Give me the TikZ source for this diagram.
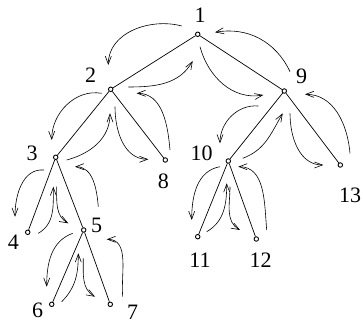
\documentclass[tikz,border=0pt]{standalone}
\usepackage{fontspec}
\setmainfont{Liberation Serif}
\usetikzlibrary{arrows.meta}

\begin{document}
\begin{tikzpicture}[x=1pt,y=1pt,
  vtx/.style={circle,draw,line width=0.9pt,inner sep=0pt,minimum size=4.5pt},
  lbl/.style={font=\fontsize{22}{22}\selectfont,inner sep=0pt},
  edge/.style={line width=0.7pt},
  trav/.style={line width=0.6pt,-{Straight Barb[length=8pt,width=6pt]}}]
\useasboundingbox (0,0) rectangle (363,324);
% tree
\node[vtx] (n1) at (197.7,289.7) {};
\node[vtx] (n2) at (110.7,234.7) {};
\node[vtx] (n3) at (55.7,166.7) {};
\node[vtx] (n4) at (27.7,91.7) {};
\node[vtx] (n5) at (83.7,94) {};
\node[vtx] (n6) at (51.7,19.7) {};
\node[vtx] (n7) at (110.3,19.7) {};
\node[vtx] (n8) at (165.3,164) {};
\node[vtx] (n9) at (284.3,233) {};
\node[vtx] (n10) at (228.3,163) {};
\node[vtx] (n11) at (197.7,87.3) {};
\node[vtx] (n12) at (256.3,85) {};
\node[vtx] (n13) at (340.3,159) {};
\node[lbl] (l1) at (200,309) {1};
\node[lbl] (l2) at (90.7,249) {2};
\node[lbl] (l3) at (32,171) {3};
\node[lbl] (l4) at (13.3,82) {4};
\node[lbl] (l5) at (96.7,98.3) {5};
\node[lbl] (l6) at (37.7,14) {6};
\node[lbl] (l7) at (132.7,11.5) {7};
\node[lbl] (l8) at (163.3,142.3) {8};
\node[lbl] (l9) at (301.7,248) {9};
\node[lbl] (l10) at (201.7,170.7) {10};
\node[lbl] (l11) at (200,64) {11};
\node[lbl] (l12) at (260.7,64) {12};
\node[lbl] (l13) at (350,128.3) {13};
\draw[edge] (n1) -- (n2); \draw[edge] (n2) -- (n3); \draw[edge] (n3) -- (n4);
\draw[edge] (n3) -- (n5); \draw[edge] (n5) -- (n6); \draw[edge] (n5) -- (n7);
\draw[edge] (n2) -- (n8); \draw[edge] (n1) -- (n9); \draw[edge] (n9) -- (n10);
\draw[edge] (n10) -- (n11); \draw[edge] (n10) -- (n12); \draw[edge] (n9) -- (n13);
% traversal, down on the left of an edge, up on the right
\coordinate (dn12a) at (181.7,298); \coordinate (dn12b) at (108.3,259);
\coordinate (up12a) at (128.3,237); \coordinate (up12b) at (192.7,263);
\coordinate (dn19a) at (200,277.3); \coordinate (dn19b) at (263.3,229);
\coordinate (up19a) at (290,252.3); \coordinate (up19b) at (215,291.7);
\coordinate (dn23a) at (101.7,230.7); \coordinate (dn23b) at (51.7,184);
\coordinate (up23a) at (66.7,164); \coordinate (up23b) at (110,210.7);
\coordinate (dn28a) at (115,217.3); \coordinate (dn28b) at (148.3,164.7);
\coordinate (up28a) at (170,174); \coordinate (up28b) at (136.7,230.7);
\coordinate (dn34a) at (44,154); \coordinate (dn34b) at (15,107.3);
\coordinate (up34a) at (38.3,90.7); \coordinate (up34b) at (53.3,137.3);
\coordinate (dn35a) at (56.7,137.3); \coordinate (dn35b) at (68.3,100.7);
\coordinate (up35a) at (98.3,117.3); \coordinate (up35b) at (75,157.3);
\coordinate (dn56a) at (72.7,90.7); \coordinate (dn56b) at (46.7,37.3);
\coordinate (up56a) at (61.7,22.3); \coordinate (up56b) at (78.3,70.7);
\coordinate (dn57a) at (83.3,65.7); \coordinate (dn57b) at (95,27.3);
\coordinate (up57a) at (122.7,27.3); \coordinate (up57b) at (106.7,84.7);
\coordinate (dn910a) at (258.3,218); \coordinate (dn910b) at (220,180.7);
\coordinate (up910a) at (242.7,165.7); \coordinate (up910b) at (282.7,210.7);
\coordinate (dn913a) at (290,210.7); \coordinate (dn913b) at (323.3,159);
\coordinate (up913a) at (350,170.7); \coordinate (up913b) at (305,229.7);
\coordinate (dn1011a) at (220,157.3); \coordinate (dn1011b) at (191.7,104);
\coordinate (up1011a) at (206.7,92.3); \coordinate (up1011b) at (226.7,140.7);
\coordinate (dn1012a) at (230,137.3); \coordinate (dn1012b) at (240,94);
\coordinate (up1012a) at (266.7,94); \coordinate (up1012b) at (238.3,157.3);
\draw[trav] (dn12a) to[out=165,in=90] (dn12b);
\draw[trav] (up12a) to[out=0,in=240] (up12b);
\draw[trav] (dn19a) to[out=-75,in=190] (dn19b);
\draw[trav] (up19a) to[out=115,in=10] (up19b);
\draw[trav] (dn23a) to[out=170,in=90] (dn23b);
\draw[trav] (up23a) to[out=15,in=-90] (up23b);
\draw[trav] (dn28a) to[out=-90,in=180] (dn28b);
\draw[trav] (up28a) to[out=95,in=0] (up28b);
\draw[trav] (dn34a) to[out=175,in=90] (dn34b);
\draw[trav] (up34a) to[out=30,in=-90] (up34b);
\draw[trav] (dn35a) to[out=-90,in=150] (dn35b);
\draw[trav] (up35a) to[out=95,in=0] (up35b);
\draw[trav] (dn56a) to[out=200,in=90] (dn56b);
\draw[trav] (up56a) to[out=45,in=-90] (up56b);
\draw[trav] (dn57a) to[out=-90,in=150] (dn57b);
\draw[trav] (up57a) to[out=95,in=0] (up57b);
\draw[trav] (dn910a) to[out=175,in=90] (dn910b);
\draw[trav] (up910a) to[out=20,in=240] (up910b);
\draw[trav] (dn913a) to[out=-90,in=180] (dn913b);
\draw[trav] (up913a) to[out=95,in=0] (up913b);
\draw[trav] (dn1011a) to[out=190,in=90] (dn1011b);
\draw[trav] (up1011a) to[out=30,in=-90] (up1011b);
\draw[trav] (dn1012a) to[out=-90,in=150] (dn1012b);
\draw[trav] (up1012a) to[out=95,in=0] (up1012b);
\end{tikzpicture}
\end{document}
